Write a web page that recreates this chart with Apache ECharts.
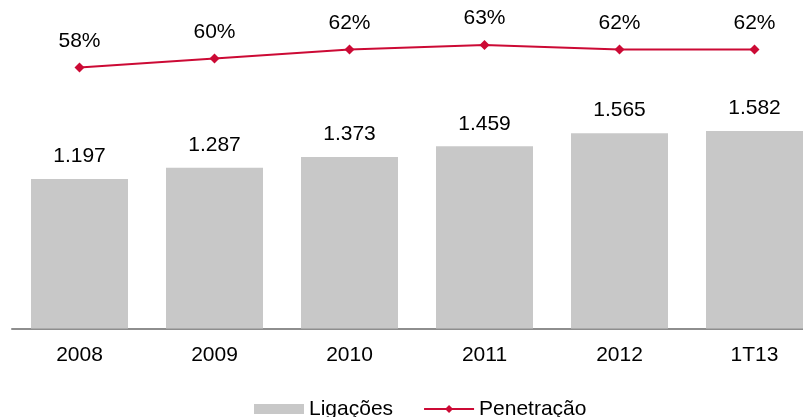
<!DOCTYPE html>
<html>
<head>
<meta charset="utf-8">
<script src="https://cdn.jsdelivr.net/npm/echarts@6/dist/echarts.min.js"></script>
<style>
html,body{margin:0;padding:0;background:#fff;}
#c{width:803px;height:417px;}
</style>
</head>
<body>
<div id="c"></div>
<script>
var categories = ['2008', '2009', '2010', '2011', '2012', '1T13'];
var ligacoes = [1197, 1287, 1373, 1459, 1565, 1582];
var penetracao = [58, 60, 62, 63, 62, 62];
var seriesNames = ['Ligações', 'Penetração'];

var FONT = '"Liberation Sans", Arial, sans-serif';
function fmtThousands(v) {
  var s = String(Math.round(v));
  return s.replace(/\B(?=(\d{3})+(?!\d))/g, '.');
}

var chart = echarts.init(document.getElementById('c'));
chart.setOption({
  animation: false,
  backgroundColor: '#ffffff',
  textStyle: { fontFamily: FONT },
  grid: { left: 12, width: 810, top: 40, height: 288.5, containLabel: false, outerBoundsMode: 'none' },
  legend: {
    left: 254,
    top: 398.5,
    padding: 0,
    itemWidth: 50,
    itemHeight: 10,
    itemGap: 30,
    textStyle: { fontFamily: FONT, fontSize: 21, lineHeight: 12, color: '#000' },
    data: [
      { name: seriesNames[0], icon: 'rect' },
      { name: seriesNames[1] }
    ]
  },
  xAxis: {
    type: 'category',
    data: categories,
    axisTick: { show: false },
    axisLine: { lineStyle: { color: '#8e8e8e', width: 2 } },
    axisLabel: { fontFamily: FONT, fontSize: 21, color: '#000', margin: 16 }
  },
  yAxis: [
    { type: 'value', min: 0, max: 2311, show: false, splitLine: { show: false } },
    { type: 'value', min: 0, max: 64.1, show: false, splitLine: { show: false } }
  ],
  series: [
    {
      name: seriesNames[0],
      type: 'bar',
      data: ligacoes,
      yAxisIndex: 0,
      barWidth: 97,
      itemStyle: { color: '#c8c8c8' },
      label: {
        show: true, position: 'top', distance: 12,
        fontFamily: FONT, fontSize: 21, color: '#000',
        formatter: function (p) { return fmtThousands(p.value); }
      }
    },
    {
      name: seriesNames[1],
      type: 'line',
      data: penetracao,
      yAxisIndex: 1,
      symbol: 'diamond',
      symbolSize: 10,
      clip: false,
      lineStyle: { color: '#cc0a35', width: 2 },
      itemStyle: { color: '#cc0a35' },
      label: {
        show: true, position: 'top', distance: 11,
        fontFamily: FONT, fontSize: 21, color: '#000',
        formatter: function (p) { return p.value + '%'; }
      }
    }
  ]
});
</script>
</body>
</html>
